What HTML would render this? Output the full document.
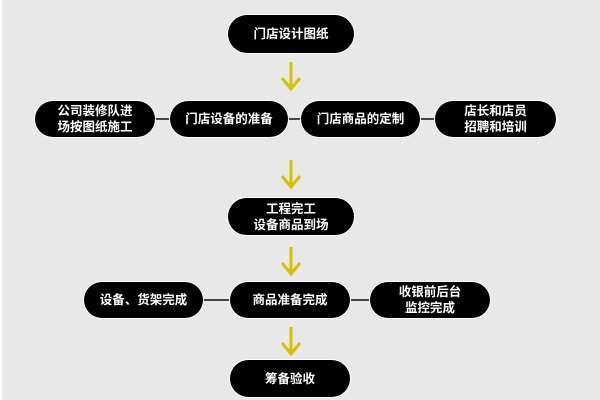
<!DOCTYPE html>
<html style="overflow:hidden;width:600px;height:400px"><head><meta charset="utf-8"><style>
body{margin:0;width:600px;height:400px;overflow:hidden;background:#e8e8e8;position:relative;font-family:"Liberation Sans","Noto Sans CJK SC",sans-serif}
.n{position:absolute;background:#000;color:#fff;border-radius:19px;display:flex;align-items:center;justify-content:center;text-align:center;font-size:12.5px;font-weight:bold;line-height:16px;box-shadow:0 0 0 1px #fff}
.l{position:absolute;height:2px;background:#444}
svg{position:absolute}
</style></head><body>
<div style="position:absolute;left:0;top:0;width:2px;height:400px;background:#fff"></div>
<div class="l" style="left:150px;top:118px;width:290px"></div>
<div class="l" style="left:200px;top:299px;width:175px"></div>
<div class="n" style="left:228px;top:15px;width:126px;height:38px">门店设计图纸</div>
<div class="n" style="left:35px;top:101px;width:120px;height:36px">公司装修队进<br>场按图纸施工</div>
<div class="n" style="left:170px;top:101px;width:118px;height:36px">门店设备的准备</div>
<div class="n" style="left:301px;top:101px;width:119px;height:36px">门店商品的定制</div>
<div class="n" style="left:435px;top:101px;width:121px;height:36px">店长和店员<br>招聘和培训</div>
<div class="n" style="left:228px;top:198px;width:126px;height:37px">工程完工<br>设备商品到场</div>
<div class="n" style="left:84px;top:282px;width:119px;height:36px">设备、货架完成</div>
<div class="n" style="left:230px;top:282px;width:120px;height:36px">商品准备完成</div>
<div class="n" style="left:370px;top:282px;width:120px;height:36px">收银前后台<br>监控完成</div>
<div class="n" style="left:230px;top:360px;width:120px;height:37px">筹备验收</div>
<svg width="600" height="400" style="left:0;top:0">
<g fill="none" stroke="#d8c000" stroke-width="3">
<path d="M291 62V88M282 78L291 89L300 78"/>
<path d="M291 160V186M282 176L291 187L300 176"/>
<path d="M291 247V273M282 263L291 274L300 263"/>
<path d="M291 327V353M282 343L291 354L300 343"/>
</g></svg>
</body></html>
